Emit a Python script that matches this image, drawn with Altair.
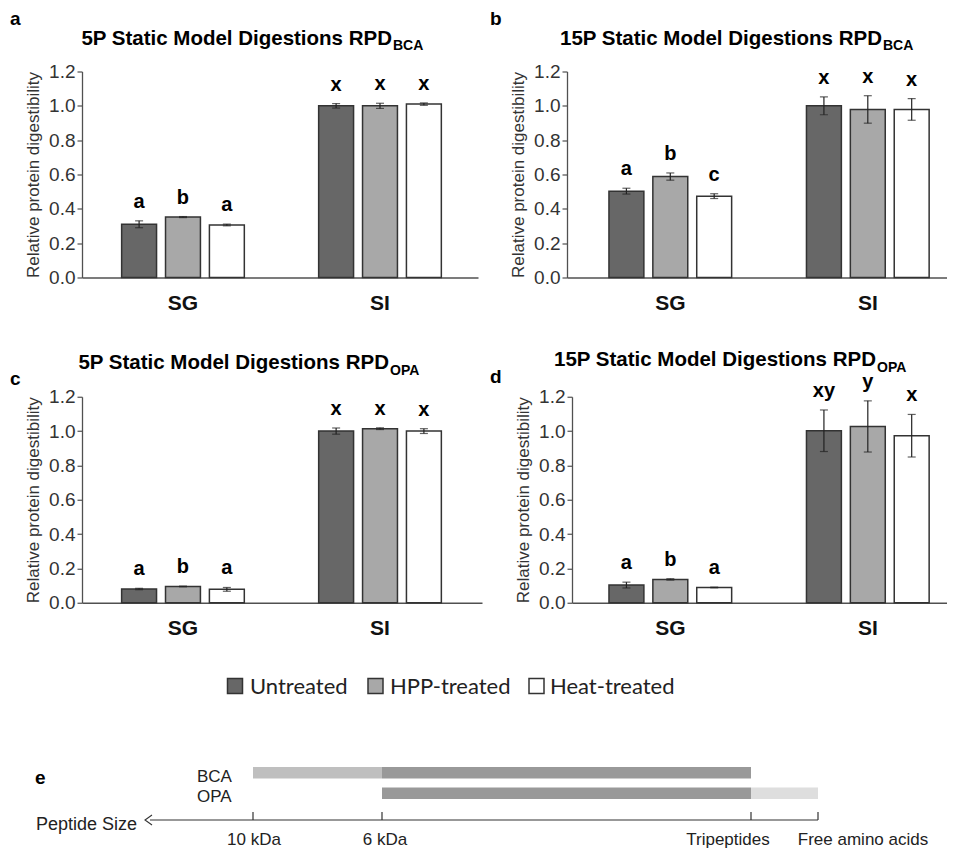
import altair as alt
import pandas as pd

# ---------------- data ----------------
treatments = ["Untreated", "HPP-treated", "Heat-treated"]
groups = ["SG", "SI"]
fills = ["#676767", "#a8a8a8", "#ffffff"]
y_ticks = [0.0, 0.2, 0.4, 0.6, 0.8, 1.0, 1.2]

# a: 5P static, RPD BCA
a_sg = [0.310, 0.352, 0.306]
a_si = [1.000, 1.000, 1.010]
a_sg_err = [0.020, 0.003, 0.005]
a_si_err = [0.013, 0.015, 0.007]
a_letters = ["a", "b", "a", "x", "x", "x"]

# b: 15P static, RPD BCA
b_sg = [0.503, 0.588, 0.474]
b_si = [1.000, 0.979, 0.979]
b_sg_err = [0.017, 0.021, 0.014]
b_si_err = [0.052, 0.080, 0.063]
b_letters = ["a", "b", "c", "x", "x", "x"]

# c: 5P static, RPD OPA
c_sg = [0.080, 0.095, 0.078]
c_si = [1.000, 1.014, 1.000]
c_sg_err = [0.004, 0.002, 0.011]
c_si_err = [0.018, 0.005, 0.014]
c_letters = ["a", "b", "a", "x", "x", "x"]

# d: 15P static, RPD OPA
d_sg = [0.103, 0.136, 0.089]
d_si = [1.002, 1.027, 0.973]
d_sg_err = [0.017, 0.004, 0.002]
d_si_err = [0.121, 0.149, 0.124]
d_letters = ["a", "b", "a", "xy", "y", "x"]

# e: schematic of peptide size ranges (positions along the peptide-size axis)
e_rows = ["BCA", "BCA", "OPA", "OPA"]
e_start = [0, 129, 129, 498]
e_end = [129, 498, 498, 565]
e_shade = ["#bfbfbf", "#999999", "#999999", "#dedede"]
e_tick_pos = [0, 129, 498, 565]
e_tick_labels = ["10 kDa", "6 kDa", "Tripeptides", "Free amino acids"]
e_label_pos = [1, 132, 475, 610]
e_axis_ext = [-103, 565]

# legend layout (positions along the same axis as panel e)
leg_sym_pos = [-18, 122.5, 283.5]
leg_lab_pos = [-3, 137, 297]

FONT = "Liberation Sans"
AXC = "#505050"

x_axis = alt.Axis(
    title=None, labelAngle=0, labelFontSize=21, labelFontWeight="bold", labelFont=FONT,
    labelColor="#111111", labelPadding=14.5, ticks=False, tickSize=0,
    domainColor=AXC, domainWidth=1.3,
)
y_axis = alt.Axis(
    title="Relative protein digestibility", values=y_ticks, format=".1f", grid=False,
    tickSize=5, tickColor=AXC, tickWidth=1.2, domainColor=AXC, domainWidth=1.3,
    labelFontSize=19, labelFont=FONT, labelColor="#333333", labelPadding=2,
    titleFontSize=17, titleFont=FONT, titleFontWeight="normal", titleColor="#333333",
    titlePadding=6,
)
color_scale = alt.Scale(domain=treatments, range=fills)


def panel(sg, si, sg_err, si_err, letters, title_main, title_sub, tag,
          width, po, align, title_x, title_y, sub_y, tag_x, tag_y):
    df = pd.DataFrame({
        "group": [g for g in groups for _ in treatments],
        "treatment": treatments * 2,
        "mean": sg + si,
        "err": sg_err + si_err,
        "letter": letters,
    })
    df["lo"] = df["mean"] - df["err"]
    df["hi"] = df["mean"] + df["err"]

    x = alt.X("group:N", sort=groups,
              scale=alt.Scale(domain=groups, paddingInner=0.2, paddingOuter=po, align=align),
              axis=x_axis)
    xo = alt.XOffset("treatment:N", sort=treatments,
                     scale=alt.Scale(domain=treatments, paddingInner=0.2045, paddingOuter=0.398))
    ys = alt.Scale(domain=[0, 1.2], nice=False, zero=True)

    base = alt.Chart(df)
    bars = base.mark_bar(stroke="#333333", strokeWidth=1.5).encode(
        x=x, xOffset=xo,
        y=alt.Y("mean:Q", scale=ys, axis=y_axis),
        color=alt.Color("treatment:N", sort=treatments, scale=color_scale, legend=None),
    )
    rules = base.mark_rule(color="#222222", strokeWidth=1.2).encode(
        x=x, xOffset=xo, y=alt.Y("lo:Q", scale=ys, axis=y_axis), y2="hi:Q")
    cap_hi = base.mark_tick(color="#222222", size=8, thickness=1.2).encode(
        x=x, xOffset=xo, y=alt.Y("hi:Q", scale=ys, axis=y_axis))
    cap_lo = base.mark_tick(color="#222222", size=8, thickness=1.2).encode(
        x=x, xOffset=xo, y=alt.Y("lo:Q", scale=ys, axis=y_axis))
    lets = base.mark_text(dy=-13, baseline="alphabetic", fontSize=20, fontWeight="bold",
                          font=FONT, color="#000000").encode(
        x=x, xOffset=xo, y=alt.Y("hi:Q", scale=ys, axis=y_axis), text="letter:N")

    t_main = alt.Chart(pd.DataFrame({"t": [title_main]})).mark_text(
        align="right", baseline="middle", fontSize=20.5, fontWeight="bold", font=FONT,
        color="#000000").encode(x=alt.value(title_x), y=alt.value(title_y), text="t:N")
    t_sub = alt.Chart(pd.DataFrame({"t": [title_sub]})).mark_text(
        align="left", baseline="middle", fontSize=14, fontWeight="bold", font=FONT,
        color="#000000").encode(x=alt.value(title_x + 1), y=alt.value(sub_y), text="t:N")
    t_tag = alt.Chart(pd.DataFrame({"t": [tag]})).mark_text(
        align="left", baseline="middle", fontSize=19, fontWeight="bold", font=FONT,
        color="#000000").encode(x=alt.value(tag_x), y=alt.value(tag_y), text="t:N")

    return alt.layer(bars, rules, cap_hi, cap_lo, lets, t_main, t_sub, t_tag).properties(
        width=width, height=206)


pa = panel(a_sg, a_si, a_sg_err, a_si_err, a_letters,
           "5P Static Model Digestions RPD", "BCA", "a",
           396, 0.105, 0.536, 310, -33, -26, -72, -53)
pb = panel(b_sg, b_si, b_sg_err, b_si_err, b_letters,
           "15P Static Model Digestions RPD", "BCA", "b",
           380, 0.062, 1.0, 315, -33, -26, -77, -53)
pc = panel(c_sg, c_si, c_sg_err, c_si_err, c_letters,
           "5P Static Model Digestions RPD", "OPA", "c",
           400, 0.115, 0.489, 307, -34, -26, -72, -18)
pd_ = panel(d_sg, d_si, d_sg_err, d_si_err, d_letters,
            "15P Static Model Digestions RPD", "OPA", "d",
            375, 0.0494, 1.0, 304, -37, -29, -82, -20)

# ---------------- panel e + legend ----------------
ex = alt.Scale(domain=[-171, 694], nice=False, zero=False)
ey = alt.Scale(domain=["BCA", "OPA"], paddingInner=0.439, paddingOuter=0, align=0)

seg_df = pd.DataFrame({"row": e_rows, "start": e_start, "end": e_end, "shade": e_shade})
e_bars = alt.Chart(seg_df).mark_bar().encode(
    x=alt.X("start:Q", scale=ex, axis=None), x2="end:Q",
    y=alt.Y("row:N", scale=ey, axis=None),
    color=alt.Color("shade:N", scale=None),
)
row_df = pd.DataFrame({"row": ["BCA", "OPA"]})
e_rowlab = alt.Chart(row_df).mark_text(
    align="left", baseline="middle", dy=4, fontSize=17, font=FONT, color="#222222").encode(
    x=alt.value(115), y=alt.Y("row:N", scale=ey, axis=None), text="row:N")

axis_df = pd.DataFrame({"a": [e_axis_ext[0]], "b": [e_axis_ext[1]]})
e_line = alt.Chart(axis_df).mark_rule(color="#333333", strokeWidth=1.2).encode(
    x=alt.X("a:Q", scale=ex, axis=None), x2="b:Q", y=alt.value(53))
e_arrow = alt.Chart(axis_df).mark_point(
    shape="M 0.4 -1 L -1 0 L 0.4 1", filled=False, size=100, color="#333333",
    strokeWidth=1.1, opacity=1, dx=5).encode(
    x=alt.X("a:Q", scale=ex, axis=None), y=alt.value(53))

tick_df = pd.DataFrame({"pos": e_tick_pos, "lab": e_tick_labels, "lpos": e_label_pos})
e_ticks = alt.Chart(tick_df).mark_rule(color="#333333", strokeWidth=1.2).encode(
    x=alt.X("pos:Q", scale=ex, axis=None), y=alt.value(45), y2=alt.value(53))
e_ticklab = alt.Chart(tick_df).mark_text(
    align="center", baseline="middle", fontSize=17, font=FONT, color="#222222").encode(
    x=alt.X("lpos:Q", scale=ex, axis=None), y=alt.value(73), text="lab:N")

e_side = alt.Chart(pd.DataFrame({"t": ["Peptide Size"]})).mark_text(
    align="left", baseline="middle", fontSize=18, font=FONT, color="#222222").encode(
    x=alt.value(-46), y=alt.value(58), text="t:N")
e_tag = alt.Chart(pd.DataFrame({"t": ["e"]})).mark_text(
    align="left", baseline="middle", fontSize=19, fontWeight="bold", font=FONT,
    color="#000000").encode(x=alt.value(-47), y=alt.value(11), text="t:N")

leg_df = pd.DataFrame({"treatment": treatments, "sx": leg_sym_pos, "lx": leg_lab_pos})
leg_sym = alt.Chart(leg_df).mark_square(
    size=225, stroke="#333333", strokeWidth=1.5, opacity=1, fillOpacity=1).encode(
    x=alt.X("sx:Q", scale=ex, axis=None), y=alt.value(-81),
    color=alt.Color("treatment:N", sort=treatments, scale=color_scale, legend=None))
leg_lab = alt.Chart(leg_df).mark_text(
    align="left", baseline="middle", fontSize=22, font="Lato", color="#222222").encode(
    x=alt.X("lx:Q", scale=ex, axis=None), y=alt.value(-80), text="treatment:N")

pe = alt.layer(e_bars, e_rowlab, e_line, e_arrow, e_ticks, e_ticklab, e_side, e_tag,
               leg_sym, leg_lab).properties(width=865, height=32)

row1 = alt.hconcat(pa, pb, spacing=12)
row2 = alt.hconcat(pc, pd_, spacing=8)
top = alt.vconcat(row1, row2, spacing=36.25)

chart = alt.vconcat(top, pe, spacing=36.5).properties(
    padding={"left": 2, "top": 1.5, "right": 0, "bottom": 0},
    background="white",
).configure_view(strokeWidth=0)

chart.save("out.html", embed_options={"renderer": "svg", "actions": False})
